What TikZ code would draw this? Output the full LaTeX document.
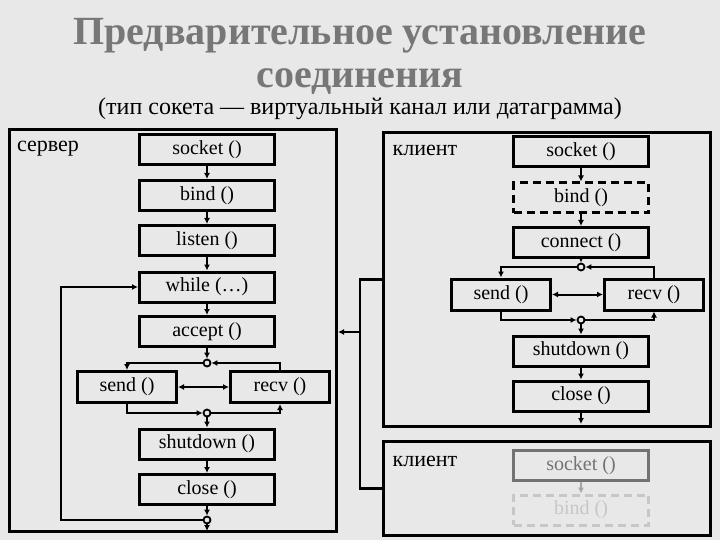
\documentclass[tikz,border=0pt]{standalone}
\usepackage{fontspec}
\setmainfont{Liberation Serif}
\usetikzlibrary{arrows.meta}
\definecolor{bg}{HTML}{E8E8E8}
\definecolor{titlegray}{HTML}{777777}

\begin{document}
\begin{tikzpicture}[x=1pt,y=-1pt,
  fn/.style={draw,line width=3pt,minimum width=135pt,minimum height=30pt,
    inner sep=0pt,font=\fontsize{20}{21}\selectfont},
  half/.style={fn,minimum width=99pt,minimum height=31pt},
  opt/.style={fn,dash pattern=on 8pt off 5pt},
  frame/.style={draw,line width=3pt,inner sep=0pt},
  jn/.style={circle,draw,line width=1.8pt,fill=bg,inner sep=0pt,minimum size=7pt},
  ar/.style={line width=2pt,-{Latex[length=6pt,width=6pt]}},
  lbl/.style={font=\fontsize{22}{24}\selectfont}]
  \fill[bg] (0,0) rectangle (720,540);
  \useasboundingbox (0,0) rectangle (720,540);

  % headings
  \node[font=\fontsize{40}{43}\selectfont\bfseries,text=titlegray,align=center,xscale=1.0] (title) at (360,56)
    {Предварительное установление\\соединения};
  \node[font=\fontsize{24}{26}\selectfont] (sub) at (360,109)
    {(тип сокета — виртуальный канал или датаграмма)};

  % server
  \node[frame,minimum width=327pt,minimum height=402pt] (server) at (173,330.5) {};
  \node[lbl] (srvlbl) at (48,149) {сервер};
  \node[fn] (socket) at (207,149.5) {socket ()};
  \node[fn] (bind) at (207,195.5) {bind ()};
  \node[fn] (listen) at (207,240.5) {listen ()};
  \node[fn] (while) at (207,287) {while (\dots)};
  \node[fn] (accept) at (207,331.5) {accept ()};
  \node[half] (send) at (127,387) {send ()};
  \node[half] (recv) at (280,387) {recv ()};
  \node[fn] (shutdown) at (207,444) {shutdown ()};
  \node[fn] (close) at (207,489.5) {close ()};
  \node[jn] (j1) at (207,363) {};
  \node[jn] (j2) at (207,413) {};
  \node[jn] (j3) at (207,520) {};
  \coordinate (sout) at (207,531);
  \coordinate (loop) at (61,520);

  \draw[ar] (socket) -- (bind);
  \draw[ar] (bind) -- (listen);
  \draw[ar] (listen) -- (while);
  \draw[ar] (while) -- (accept);
  \draw[ar] (accept) -- (j1);
  \draw[ar] (j1) -| (send);
  \draw[ar] (recv) |- (j1);
  \draw[ar,{Latex[length=6pt,width=6pt]}-{Latex[length=6pt,width=6pt]}] (send) -- (recv);
  \draw[ar] (send) |- (j2);
  \draw[ar] (j2) -| (recv);
  \draw[ar] (j2) -- (shutdown);
  \draw[ar] (shutdown) -- (close);
  \draw[ar] (close) -- (j3);
  \draw[ar] (j3) -- (sout);
  \draw[ar] (j3) -- (loop) |- (while);

  % client
  \node[frame,minimum width=327pt,minimum height=294pt] (client) at (547,279.5) {};
  \node[lbl] (cllbl) at (425,150) {клиент};
  \node[fn] (csocket) at (581,151.5) {socket ()};
  \node[opt] (cbind) at (581,198) {bind ()};
  \node[fn] (connect) at (581,242.5) {connect ()};
  \node[half] (csend) at (501,294.5) {send ()};
  \node[half] (crecv) at (654,294.5) {recv ()};
  \node[fn] (cshutdown) at (581,351) {shutdown ()};
  \node[fn] (cclose) at (581,396) {close ()};
  \node[jn] (cj1) at (581,267) {};
  \node[jn] (cj2) at (581,320) {};
  \coordinate (cout) at (581,424);

  \draw[ar] (csocket) -- (cbind);
  \draw[ar] (cbind) -- (connect);
  \draw[ar] (connect) -- (cj1);
  \draw[ar] (cj1) -| (csend);
  \draw[ar] (crecv) |- (cj1);
  \draw[ar,{Latex[length=6pt,width=6pt]}-{Latex[length=6pt,width=6pt]}] (csend) -- (crecv);
  \draw[ar] (csend) |- (cj2);
  \draw[ar] (cj2) -| (crecv);
  \draw[ar] (cj2) -- (cshutdown);
  \draw[ar] (cshutdown) -- (cclose);
  \draw[ar] (cclose) -- (cout);

  % second client, fading out
  \node[frame,minimum width=327pt,minimum height=94pt] (client2) at (547,488.5) {};
  \node[lbl] (cl2lbl) at (425,461) {клиент};
  \node[fn,draw=black!55,text=black!55] (nsocket) at (581,465.5) {socket ()};
  \node[opt,draw=black!22,text=black!22] (nbind) at (581,510) {bind ()};
  \draw[ar,black!35] (nsocket) -- (nbind);

  % link to server
  \coordinate (brace) at (360,332);
  \draw[line width=2.5pt] (client.west) -| (brace) |- (client2.west);
  \draw[ar] (brace) -- (brace -| server.east);
\end{tikzpicture}
\end{document}
